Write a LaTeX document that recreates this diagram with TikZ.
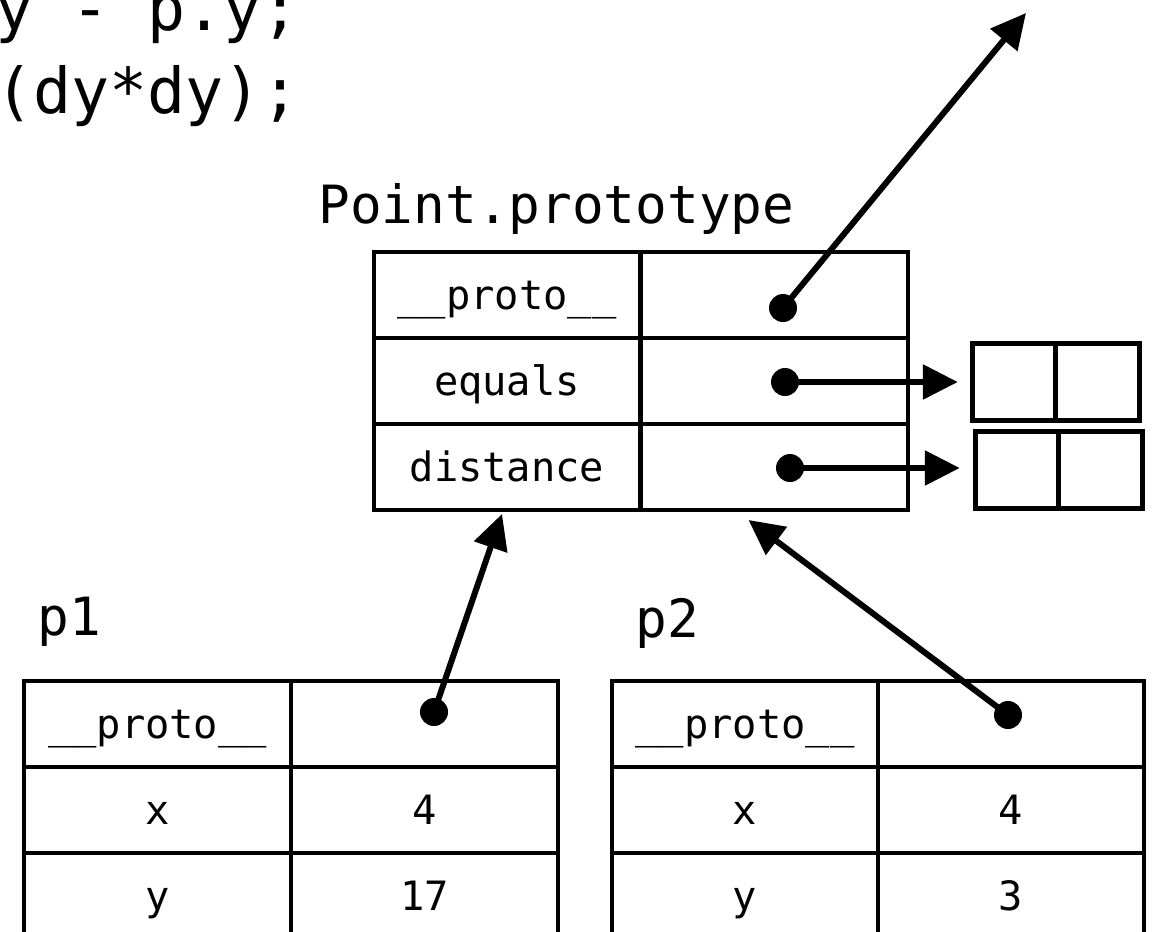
\documentclass[tikz,border=0pt]{standalone}
\usepackage{fontspec}
\setmonofont{DejaVu Sans Mono}
\usetikzlibrary{arrows.meta,calc}

\begin{document}
\begin{tikzpicture}[x=0.02cm, y=-0.02cm,
  cell/.style={draw, line width=0.08cm, minimum width=5.34cm, minimum height=1.72cm, inner sep=0pt, text height=16pt, text depth=0pt, font=\ttfamily\fontsize{23}{23}\selectfont},
  fnbox/.style={draw, line width=0.1cm, minimum width=1.67cm, minimum height=1.53cm, inner sep=0pt},
  dot/.style={circle, fill, inner sep=0pt, minimum size=0.56cm},
  ptr/.style={line width=0.12cm, -{Triangle[length=0.7cm, width=0.68cm]}},
  lbl/.style={anchor=base west, inner sep=0pt, font=\ttfamily\fontsize{30}{30}\selectfont},
  code/.style={anchor=base west, inner sep=0pt, font=\ttfamily\fontsize{36}{36}\selectfont}]

\useasboundingbox (0,0) rectangle (1154,931);
\clip (0,0) rectangle (1154,931);

% tail of the method source
\node [code] (src-a) at (-5,30) {y - p.y;};
\node [code] (src-b) at (-5,113) {(dy*dy);};

% Point.prototype
\node [lbl] (pp-name) at (318,223) {Point.prototype};
\node [cell] (pp-proto-k) at (507,295) {\_\_proto\_\_};
\node [cell] (pp-proto-v) at (774.5,295) {};
\node [cell] (pp-eq-k) at (507,381) {equals};
\node [cell] (pp-eq-v) at (774.5,381) {};
\node [cell] (pp-dist-k) at (507,467) {distance};
\node [cell] (pp-dist-v) at (774.5,467) {};

\node [dot] (pp-proto-dot) at (783,308) {};
\node [dot] (pp-eq-dot) at (785,382) {};
\node [dot] (pp-dist-dot) at (790,468) {};

% function objects
\node [fnbox] (eq-box-l) at (1014,382) {};
\node [fnbox] (eq-box-r) at (1097.5,382) {};
\node [fnbox] (dist-box-l) at (1017,470) {};
\node [fnbox] (dist-box-r) at (1100.5,470) {};

% p1
\node [lbl] (p1-name) at (37,635) {p1};
\node [cell] (p1-proto-k) at (157.5,724) {\_\_proto\_\_};
\node [cell] (p1-proto-v) at (424.5,724) {};
\node [cell] (p1-x-k) at (157.5,810) {x};
\node [cell] (p1-x-v) at (424.5,810) {4};
\node [cell] (p1-y-k) at (157.5,896) {y};
\node [cell] (p1-y-v) at (424.5,896) {17};
\node [dot] (p1-dot) at (434,712) {};

% p2
\node [lbl] (p2-name) at (635,637) {p2};
\node [cell] (p2-proto-k) at (745,724) {\_\_proto\_\_};
\node [cell] (p2-proto-v) at (1011,724) {};
\node [cell] (p2-x-k) at (745,810) {x};
\node [cell] (p2-x-v) at (1011,810) {4};
\node [cell] (p2-y-k) at (745,896) {y};
\node [cell] (p2-y-v) at (1011,896) {3};
\node [dot] (p2-dot) at (1008,715) {};

% pointers
\coordinate (obj-proto) at (1026,13);
\draw [ptr] (pp-proto-dot.center) -- (obj-proto);
\draw [ptr, shorten >=0.24cm] (pp-eq-dot.center) -- (pp-eq-dot -| eq-box-l.west);
\draw [ptr, shorten >=0.26cm] (pp-dist-dot.center) -- (pp-dist-dot -| dist-box-l.west);
\draw [ptr] (p1-dot.center) -- ($(pp-dist-k.south)+(-5,2)$);
\draw [ptr] (p2-dot.center) -- ($(pp-dist-v.south)+(-26,8)$);

\end{tikzpicture}
\end{document}
